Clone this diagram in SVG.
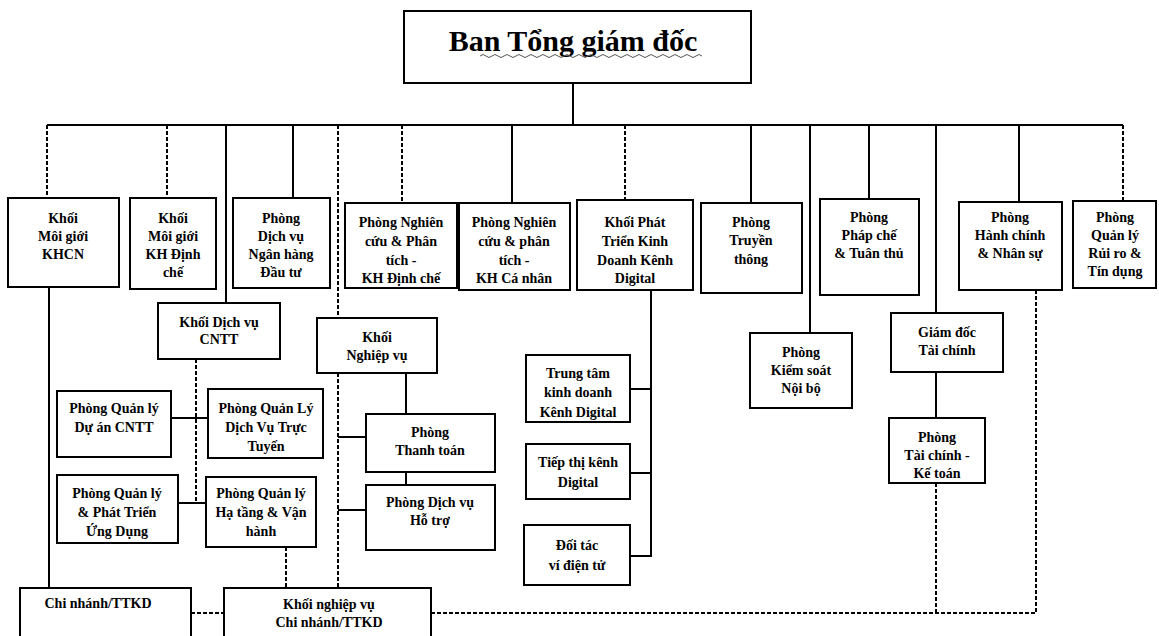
<svg xmlns="http://www.w3.org/2000/svg" width="1159" height="636" viewBox="0 0 1159 636">
<style>
.box{fill:#fff;stroke:#000;stroke-width:2}
.t{font-family:"Liberation Serif","Times New Roman",serif;font-weight:bold;font-size:14px;text-anchor:middle;fill:#000}
.ttl{font-family:"Liberation Serif","Times New Roman",serif;font-weight:bold;font-size:30px;text-anchor:middle;fill:#000}
.ln{stroke:#000;stroke-width:2;fill:none}
.dl{stroke:#000;stroke-width:2;stroke-dasharray:4 2;fill:none}
</style>
<rect width="1159" height="636" fill="#fff"/>
<g id="connectors">
<path class="ln" d="M573 83V125M47 125H1123M226 125V303M293 125V198M512 125V203M751 125V203M810 125V333M869 125V199M936 125V313M1019 125V202M49 287V588M171 418H208M178 503H206M406 373V414M406 472V485M338 437H366M338 510H366M651 290V557M630 389H651M630 473H651M630 556H651M936 372V418"/>
<path class="dl" d="M47 125V198M167 125V198M338 125V318M338 373V588M402 125V203M625 125V200M1123 125V201M196 359V503M286 547V588M191 613H224M431 613H1036V290M936 483V613"/>
</g>
<g id="n-ban-tgd">
<rect class="box" x="404" y="11" width="347" height="72"/>
<text class="ttl" x="573" y="51">Ban Tổng giám đốc</text>
<path d="M480 56q3-3 6 0t6 0t6 0t6 0t6 0t6 0t6 0t6 0t6 0t6 0t6 0t6 0t6 0t6 0t6 0t6 0t6 0t6 0t6 0t6 0t6 0t6 0t6 0t6 0t6 0t6 0t6 0t6 0t6 0t6 0t6 0t6 0t6 0t6 0t6 0t6 0t6 0t6" fill="none" stroke="#555" stroke-width="1"/>
</g>
<g id="n-moigioi-khcn">
<rect class="box" x="8" y="198" width="111" height="89"/>
<text class="t" x="63" y="223">Khối</text><text class="t" x="63" y="241">Môi giới</text><text class="t" x="63" y="259">KHCN</text>
</g>
<g id="n-moigioi-khdc">
<rect class="box" x="130" y="198" width="86" height="91"/>
<text class="t" x="173" y="223">Khối</text><text class="t" x="173" y="241">Môi giới</text><text class="t" x="173" y="259">KH Định</text><text class="t" x="173" y="277">chế</text>
</g>
<g id="n-nhdt">
<rect class="box" x="233" y="198" width="97" height="90"/>
<text class="t" x="281" y="223">Phòng</text><text class="t" x="281" y="241">Dịch vụ</text><text class="t" x="281" y="259">Ngân hàng</text><text class="t" x="281" y="277">Đầu tư</text>
</g>
<g id="n-pnc-dc">
<rect class="box" x="345" y="203" width="112" height="85"/>
<text class="t" x="401" y="227">Phòng Nghiên</text><text class="t" x="401" y="246">cứu &amp; Phân</text><text class="t" x="401" y="265">tích -</text><text class="t" x="401" y="283">KH Định chế</text>
</g>
<g id="n-pnc-cn">
<rect class="box" x="459" y="203" width="111" height="87"/>
<text class="t" x="514" y="227">Phòng Nghiên</text><text class="t" x="514" y="246">cứu &amp; phân</text><text class="t" x="514" y="265">tích -</text><text class="t" x="514" y="283">KH Cá nhân</text>
</g>
<g id="n-khoi-digital">
<rect class="box" x="577" y="200" width="116" height="90"/>
<text class="t" x="635" y="227">Khối Phát</text><text class="t" x="635" y="246">Triển Kinh</text><text class="t" x="635" y="265">Doanh Kênh</text><text class="t" x="635" y="283">Digital</text>
</g>
<g id="n-truyenthong">
<rect class="box" x="701" y="203" width="101" height="90"/>
<text class="t" x="751" y="227">Phòng</text><text class="t" x="751" y="245">Truyền</text><text class="t" x="751" y="264">thông</text>
</g>
<g id="n-phapche">
<rect class="box" x="820" y="199" width="99" height="96"/>
<text class="t" x="869" y="222">Phòng</text><text class="t" x="869" y="240">Pháp chế</text><text class="t" x="869" y="258">&amp; Tuân thủ</text>
</g>
<g id="n-hanhchinh">
<rect class="box" x="959" y="202" width="103" height="88"/>
<text class="t" x="1010" y="222">Phòng</text><text class="t" x="1010" y="240">Hành chính</text><text class="t" x="1010" y="258">&amp; Nhân sự</text>
</g>
<g id="n-ruiro">
<rect class="box" x="1073" y="201" width="83" height="87"/>
<text class="t" x="1115" y="222">Phòng</text><text class="t" x="1115" y="240">Quản lý</text><text class="t" x="1115" y="258">Rủi ro &amp;</text><text class="t" x="1115" y="276">Tín dụng</text>
</g>
<g id="n-cntt">
<rect class="box" x="158" y="303" width="122" height="56"/>
<text class="t" x="219" y="327">Khối Dịch vụ</text><text class="t" x="219" y="344">CNTT</text>
</g>
<g id="n-da-cntt">
<rect class="box" x="57" y="391" width="114" height="66"/>
<text class="t" x="114" y="413">Phòng Quản lý</text><text class="t" x="114" y="432">Dự án CNTT</text>
</g>
<g id="n-dv-tructuyen">
<rect class="box" x="208" y="389" width="115" height="69"/>
<text class="t" x="266" y="413">Phòng Quản Lý</text><text class="t" x="266" y="432">Dịch Vụ Trực</text><text class="t" x="266" y="451">Tuyến</text>
</g>
<g id="n-ptud">
<rect class="box" x="57" y="475" width="121" height="68"/>
<text class="t" x="117" y="498">Phòng Quản lý</text><text class="t" x="117" y="517">&amp; Phát Triển</text><text class="t" x="117" y="536">Ứng Dụng</text>
</g>
<g id="n-hatang">
<rect class="box" x="206" y="477" width="110" height="70"/>
<text class="t" x="261" y="498">Phòng Quản lý</text><text class="t" x="261" y="517">Hạ tầng &amp; Vận</text><text class="t" x="261" y="536">hành</text>
</g>
<g id="n-nghiepvu">
<rect class="box" x="317" y="318" width="120" height="55"/>
<text class="t" x="377" y="342">Khối</text><text class="t" x="377" y="360">Nghiệp vụ</text>
</g>
<g id="n-thanhtoan">
<rect class="box" x="366" y="414" width="129" height="58"/>
<text class="t" x="430" y="437">Phòng</text><text class="t" x="430" y="455">Thanh toán</text>
</g>
<g id="n-hotro">
<rect class="box" x="366" y="485" width="129" height="65"/>
<text class="t" x="430" y="507">Phòng Dịch vụ</text><text class="t" x="430" y="525">Hỗ trợ</text>
</g>
<g id="n-tt-digital">
<rect class="box" x="526" y="355" width="104" height="67"/>
<text class="t" x="578" y="378">Trung tâm</text><text class="t" x="578" y="397">kinh doanh</text><text class="t" x="578" y="417">Kênh Digital</text>
</g>
<g id="n-tiepthi">
<rect class="box" x="526" y="444" width="104" height="55"/>
<text class="t" x="578" y="467">Tiếp thị kênh</text><text class="t" x="578" y="487">Digital</text>
</g>
<g id="n-doitac">
<rect class="box" x="524" y="525" width="106" height="60"/>
<text class="t" x="577" y="550">Đối tác</text><text class="t" x="577" y="570">ví điện tử</text>
</g>
<g id="n-kiemsoat">
<rect class="box" x="750" y="333" width="102" height="75"/>
<text class="t" x="801" y="357">Phòng</text><text class="t" x="801" y="375">Kiểm soát</text><text class="t" x="801" y="393">Nội bộ</text>
</g>
<g id="n-gdtc">
<rect class="box" x="891" y="313" width="112" height="59"/>
<text class="t" x="947" y="337">Giám đốc</text><text class="t" x="947" y="355">Tài chính</text>
</g>
<g id="n-tckt">
<rect class="box" x="889" y="418" width="96" height="65"/>
<text class="t" x="937" y="442">Phòng</text><text class="t" x="937" y="460">Tài chính -</text><text class="t" x="937" y="478">Kế toán</text>
</g>
<g id="n-chinhanh">
<rect class="box" x="20" y="588" width="171" height="60"/>
<text class="t" x="98" y="608">Chi nhánh/TTKD</text>
</g>
<g id="n-nv-chinhanh">
<rect class="box" x="224" y="588" width="207" height="60"/>
<text class="t" x="329" y="609">Khối nghiệp vụ</text><text class="t" x="329" y="627">Chi nhánh/TTKD</text>
</g>
</svg>
